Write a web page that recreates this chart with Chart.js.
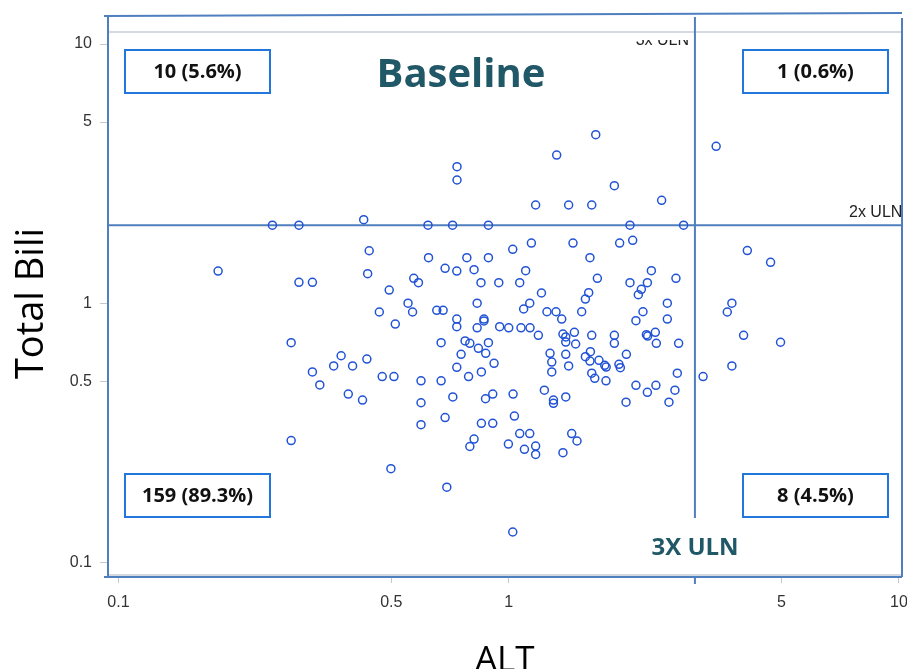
<!DOCTYPE html>
<html>
<head>
<meta charset="utf-8">
<script src="https://cdn.jsdelivr.net/npm/chart.js@4.4.1/dist/chart.umd.min.js"></script>
<style>
  html, body { margin: 0; padding: 0; background: #fff; }
  #wrap { width: 907px; height: 669px; }
</style>
</head>
<body>
<div id="wrap"><canvas id="chart"></canvas></div>
<script>
// ALT (x ULN) per subject
const alt = [
  0.18, 0.248, 0.29, 0.621, 0.718, 0.887, 2.045, 2.806, 0.439, 0.623,
  0.781, 0.887, 0.687, 0.736, 0.815, 0.29, 0.314, 0.435, 0.494, 0.571,
  0.587, 0.849, 0.943, 0.552, 0.83, 0.466, 0.567, 0.654, 0.679, 0.736,
  0.736, 0.864, 0.864, 0.83, 0.948, 0.512, 0.277, 0.671, 0.773, 0.795,
  0.887, 1.024, 1.143, 1.461, 1.924, 2.078, 1.615, 1.105, 2.32, 1.067,
  1.687, 2.045, 2.266, 2.682, 1.213, 1.603, 1.572, 2.187, 2.148, 1.132,
  1.092, 1.253, 1.322, 1.367, 1.538, 2.208, 2.549, 2.549, 2.118, 1.0,
  1.075, 1.134, 1.191, 1.377, 1.40, 1.40, 1.473, 1.484, 1.632, 1.865,
  1.865, 2.253, 2.27, 2.375, 2.389, 2.725, 0.836, 0.873, 0.755, 0.372,
  0.433, 0.314, 0.356, 0.398, 0.328, 0.474, 0.508, 0.596, 0.671, 0.736,
  0.789, 0.851, 0.917, 0.388, 0.422, 0.596, 0.719, 0.872, 0.91, 0.596,
  0.687, 0.851, 0.91, 0.277, 0.815, 0.795, 0.499, 0.694, 1.276, 1.289,
  1.289, 1.40, 1.424, 1.572, 1.619, 1.615, 1.703, 1.762, 1.777, 1.916,
  1.932, 2.002, 1.632, 1.661, 1.775, 2.118, 2.266, 2.383, 2.666, 2.704,
  2.574, 1.026, 1.234, 1.302, 1.302, 1.40, 1.998, 1.034, 0.998, 1.067,
  1.132, 1.097, 1.172, 1.172, 1.377, 1.45, 1.496, 1.024,
  0.425, 1.172, 1.424, 1.632, 2.465, 0.737, 0.737, 1.327, 1.671, 1.865,
  3.40,
  4.087, 4.688, 3.731, 3.631, 3.998, 4.972, 3.731, 3.148
];

// Total bilirubin (x ULN) per subject
const bili = [
  1.331, 2.0, 2.0, 2.0, 2.0, 2.0, 2.0, 2.0, 1.594, 1.498,
  1.498, 1.498, 1.363, 1.331, 1.347, 1.204, 1.204, 1.30, 1.124, 1.248,
  1.20, 1.20, 1.20, 1.0, 1.0, 0.925, 0.925, 0.939, 0.939, 0.869,
  0.812, 0.869, 0.854, 0.804, 0.812, 0.831, 0.704, 0.704, 0.715, 0.70,
  0.704, 1.614, 1.707, 1.707, 1.707, 1.748, 1.498, 1.335, 1.335, 1.20,
  1.248, 1.20, 1.20, 1.248, 1.095, 1.098, 1.038, 1.131, 1.078, 1.0,
  0.95, 0.927, 0.927, 0.869, 0.927, 0.927, 1.0, 0.869, 0.856, 0.804,
  0.804, 0.804, 0.752, 0.76, 0.741, 0.708, 0.772, 0.696, 0.752, 0.752,
  0.70, 0.756, 0.747, 0.772, 0.70, 0.70, 0.67, 0.641, 0.635, 0.627,
  0.609, 0.543, 0.573, 0.573, 0.484, 0.521, 0.521, 0.502, 0.502, 0.566,
  0.521, 0.543, 0.586, 0.446, 0.423, 0.413, 0.435, 0.428, 0.446, 0.34,
  0.362, 0.344, 0.344, 0.295, 0.299, 0.28, 0.23, 0.195, 0.641, 0.593,
  0.543, 0.635, 0.573, 0.622, 0.65, 0.598, 0.602, 0.576, 0.567, 0.581,
  0.564, 0.635, 0.537, 0.513, 0.502, 0.482, 0.453, 0.482, 0.462, 0.537,
  0.415, 0.446, 0.462, 0.423, 0.411, 0.435, 0.415, 0.367, 0.286, 0.314,
  0.314, 0.273, 0.281, 0.261, 0.265, 0.314, 0.294, 0.131,
  2.10, 2.393, 2.393, 2.393, 2.495, 3.363, 2.988, 3.731, 4.468, 2.84,
  4.03,
  1.597, 1.438, 1.0, 0.925, 0.752, 0.707, 0.573, 0.521
];

const xTicks = [0.1, 0.5, 1, 5, 10];
const yTicks = [0.1, 0.5, 1, 5, 10];
const altUln = 3;   // vertical reference
const biliUln = 2;  // horizontal reference
const quadrantLabels = ["10 (5.6%)", "1 (0.6%)", "159 (89.3%)", "8 (4.5%)"];

const points = alt.map((x, i) => ({ x: x, y: bili[i] }));

const frameBlue = "#4f7fbf";
const boxBlue = "#2277dd";
const teal = "#215868";

const overlay = {
  id: "overlay",
  beforeDatasetsDraw(chart) {
    const { ctx, chartArea, scales } = chart;
    const xs = scales.x, ys = scales.y;
    ctx.save();
    // light top frame line
    ctx.strokeStyle = "#d5dae0";
    ctx.lineWidth = 2;
    ctx.beginPath();
    ctx.moveTo(chartArea.left, chartArea.top);
    ctx.lineTo(chartArea.right, chartArea.top);
    ctx.stroke();

    // reference lines
    const hy = ys.getPixelForValue(biliUln);
    const vx = xs.getPixelForValue(altUln);
    ctx.strokeStyle = frameBlue;
    ctx.lineWidth = 2;
    ctx.beginPath();
    ctx.moveTo(chartArea.left, hy);
    ctx.lineTo(chartArea.right, hy);
    ctx.moveTo(vx, 17);
    ctx.lineTo(vx, 518);
    ctx.moveTo(vx, 577);
    ctx.lineTo(vx, 584);
    ctx.stroke();

    // reference labels
    ctx.fillStyle = "#222";
    ctx.font = "16px 'Liberation Sans', Arial, sans-serif";
    ctx.textBaseline = "alphabetic";
    ctx.textAlign = "left";
    ctx.fillText("2x ULN", 849, 217);
    ctx.save();
    ctx.beginPath();
    ctx.rect(600, 40, 95, 10);
    ctx.clip();
    ctx.textAlign = "right";
    ctx.fillText("3x ULN", 689, 45);
    ctx.restore();
    ctx.restore();
  },
  afterDraw(chart) {
    const { ctx } = chart;
    ctx.save();
    // outer blue frame
    ctx.strokeStyle = frameBlue;
    ctx.lineWidth = 2;
    ctx.beginPath();
    ctx.moveTo(104, 16);
    ctx.lineTo(902, 13);
    ctx.moveTo(108, 17);
    ctx.lineTo(108, 577);
    ctx.moveTo(104, 577);
    ctx.lineTo(902, 577);
    ctx.moveTo(902, 18);
    ctx.lineTo(902, 577);
    ctx.stroke();

    // quadrant count boxes
    const boxes = [
      [125, 50], [743, 50], [125, 474], [743, 474]
    ];
    ctx.font = "bold 20px 'Open Sans', sans-serif";
    ctx.textAlign = "center";
    ctx.textBaseline = "middle";
    boxes.forEach((b, i) => {
      ctx.fillStyle = "#fff";
      ctx.fillRect(b[0], b[1], 145, 43);
      ctx.strokeStyle = boxBlue;
      ctx.lineWidth = 2;
      ctx.strokeRect(b[0], b[1], 145, 43);
      ctx.fillStyle = "#111";
      ctx.fillText(quadrantLabels[i], b[0] + 72.5, b[1] + 22);
    });

    ctx.fillStyle = teal;
    ctx.font = "bold 40px 'Open Sans', sans-serif";
    ctx.fillText("Baseline", 461, 76);
    ctx.font = "bold 24px 'Open Sans', sans-serif";
    ctx.fillText("3X ULN", 695, 548);
    ctx.restore();
  }
};

new Chart(document.getElementById("chart"), {
  type: "scatter",
  data: {
    datasets: [{
      data: points,
      pointStyle: "circle",
      pointRadius: 4,
      pointBorderWidth: 1.5,
      pointBorderColor: "#2253d6",
      pointBackgroundColor: "rgba(0,0,0,0)"
    }]
  },
  options: {
    responsive: true,
    maintainAspectRatio: false,
    animation: false,
    layout: { padding: { top: 32, right: 5, left: 0, bottom: 0 } },
    plugins: { legend: { display: false }, tooltip: { enabled: false } },
    scales: {
      x: {
        type: "logarithmic",
        min: 0.094,
        max: 10.15,
        afterFit: (s) => { s.height = 94; s.paddingLeft = 0; s.paddingRight = 0; },
        afterBuildTicks: (s) => { s.ticks = xTicks.map(v => ({ value: v })); },
        border: { display: true, color: "#d5dae0", width: 2 },
        grid: { drawOnChartArea: false, tickLength: 8, color: "#c8c8c8" },
        ticks: {
          padding: 10,
          color: "#333",
          font: { family: "'Liberation Sans', Arial, sans-serif", size: 16 },
          callback: (v) => String(v),
          maxRotation: 0,
          autoSkip: false
        },
        title: {
          display: true,
          text: "ALT",
          color: "#000",
          padding: { top: 0, bottom: -6 },
          font: { family: "'Open Sans', sans-serif", size: 35, lineHeight: 0.8 }
        }
      },
      y: {
        type: "logarithmic",
        min: 0.0894,
        max: 11.13,
        afterFit: (s) => { s.width = 108; s.paddingTop = 0; s.paddingBottom = 0; },
        afterBuildTicks: (s) => { s.ticks = yTicks.map(v => ({ value: v })); },
        border: { display: false },
        grid: { drawOnChartArea: false, tickLength: 8, color: "#c8c8c8" },
        ticks: {
          padding: 8,
          color: "#333",
          font: { family: "'Liberation Sans', Arial, sans-serif", size: 16 },
          callback: (v) => String(v),
          autoSkip: false
        },
        title: {
          display: true,
          text: "Total Bili",
          color: "#000",
          padding: { top: 9, bottom: 0 },
          font: { family: "'Open Sans', sans-serif", size: 38, lineHeight: 1.2 }
        }
      }
    }
  },
  plugins: [overlay]
});
</script>
</body>
</html>
